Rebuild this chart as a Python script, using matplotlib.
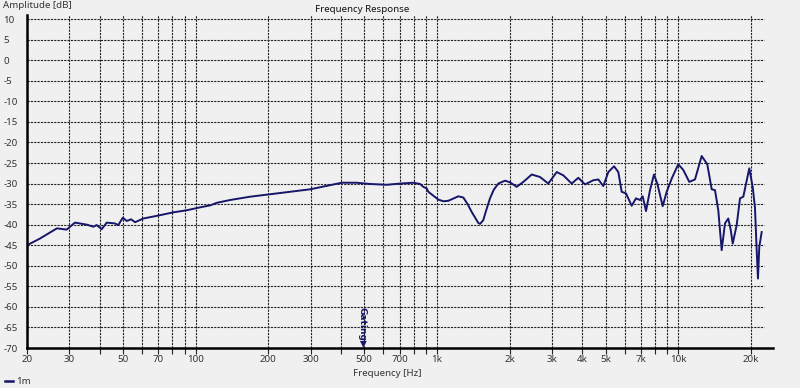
import matplotlib.pyplot as plt
from matplotlib.ticker import FixedLocator, NullFormatter

freq_hz = [20, 22.6, 26.6, 29.2, 31.6, 35.4, 37.7, 38.9, 40.8, 42.8, 46.3,
           47.8, 49.9, 51.8, 54.0, 56.1, 60.7, 71.1, 80.8, 91.8, 104, 115,
           122, 139, 168, 217, 298, 360, 403, 465, 528, 619, 703, 798, 851,
           878, 907, 921, 1013, 1062, 1114, 1226, 1286, 1340, 1393, 1484,
           1510, 1556, 1600, 1659, 1720, 1796, 1914, 2008, 2140, 2280, 2470,
           2673, 2894, 3136, 3340, 3618, 3854, 4108, 4446, 4664, 4892, 5132,
           5418, 5645, 5829, 6074, 6413, 6682, 6942, 7123, 7351, 7637, 7934,
           8188, 8621, 8956, 9394, 10002, 10496, 11110, 11732, 12506, 13192,
           13760, 14200, 14654, 15136, 15620, 16120, 16496, 16814, 17466,
           18026, 18604, 19698, 20348, 20798, 21136, 21400, 21668, 22172]
level_db = [-45.0, -43.4, -40.9, -41.2, -39.5, -40.0, -40.5, -40.1, -41.1,
            -39.5, -39.7, -40.1, -38.3, -39.1, -38.7, -39.4, -38.5, -37.7,
            -37.0, -36.5, -35.8, -35.3, -34.7, -34.0, -33.2, -32.4, -31.4,
            -30.4, -29.8, -29.8, -30.1, -30.3, -30.0, -29.8, -30.1, -30.8,
            -31.2, -32.0, -33.9, -34.3, -34.2, -33.1, -33.4, -35.0, -36.9,
            -39.6, -39.8, -38.9, -36.5, -33.6, -31.5, -30.0, -29.3, -29.7,
            -30.8, -29.6, -27.8, -28.4, -30.0, -27.2, -28.0, -30.0, -28.6,
            -30.2, -29.2, -29.0, -30.6, -27.2, -25.8, -27.2, -32.0, -32.4,
            -35.4, -33.6, -34.0, -33.1, -36.7, -31.6, -27.8, -30.0, -35.5,
            -32.0, -28.8, -25.3, -26.7, -29.6, -29.0, -23.3, -25.3, -31.4,
            -31.6, -36.5, -46.2, -39.7, -38.5, -41.2, -44.6, -40.1, -33.6,
            -33.2, -26.3, -30.8, -35.9, -46.2, -53.1, -45.4, -41.8]

x_ticks = [20, 30, 50, 70, 100, 200, 300, 500, 700, 1000, 2000, 3000, 4000,
           5000, 7000, 10000, 20000]
x_labels = ['20', '30', '50', '70', '100', '200', '300', '500', '700', '1k',
            '2k', '3k', '4k', '5k', '7k', '10k', '20k']
y_ticks = list(range(-70, 11, 5))
gating_hz = 489

BG = '#f0f0f0'
LINE = '#16166a'
TXT = '#333333'

plt.rcParams['font.family'] = ['Noto Sans', 'DejaVu Sans']
plt.rcParams['font.size'] = 7
plt.rcParams['axes.unicode_minus'] = False

fig = plt.figure(figsize=(8, 3.88), dpi=100, facecolor=BG)
ax = fig.add_axes([27 / 800, 1 - 348 / 388, 746 / 800, 333 / 388])
ax.set_facecolor(BG)

ax.plot(freq_hz, level_db, color=LINE, lw=1.4, solid_joinstyle='round')

ax.set_xscale('log')
ax.set_xlim(20, 24700)
ax.set_ylim(-70, 11)

grid_x = [m * 10 ** e for e in range(1, 5) for m in range(1, 10)]
grid_x = [g for g in grid_x if 20 <= g <= 20000]
ax.xaxis.set_major_locator(FixedLocator(x_ticks))
ax.xaxis.set_minor_locator(FixedLocator(grid_x))
ax.xaxis.set_minor_formatter(NullFormatter())
ax.set_xticklabels(x_labels)
ax.set_yticks(y_ticks)

for g in grid_x:
    ax.axvline(g, color='#222222', lw=0.8, ls=(0, (2, 1)), zorder=1)
for y in y_ticks:
    ax.plot([20, 22700], [y, y], color='#222222', lw=0.8, ls=(0, (2, 1)),
            zorder=1)

ax.tick_params(axis='x', which='both', direction='out', length=4, width=0.8,
               color='#222222', labelcolor=TXT, pad=1)
ax.tick_params(axis='y', length=0, pad=17, labelcolor=TXT)
for lab in ax.get_yticklabels():
    lab.set_horizontalalignment('left')

for side in ['top', 'right']:
    ax.spines[side].set_visible(False)
for side in ['left', 'bottom']:
    ax.spines[side].set_linewidth(1.8)
    ax.spines[side].set_zorder(5)

ax.text(gating_hz, -70, 'Gating\u25b6', rotation=-90, color=LINE,
        fontsize=6.5, fontweight='bold', ha='center', va='bottom',
        family=['DejaVu Sans'])

fig.text(362 / 800, 1 - 10 / 388, 'Frequency Response', ha='center',
         va='center', fontweight='bold', color='#111111')
fig.text(3 / 800, 1 - 6 / 388, 'Amplitude [dB]', ha='left', va='center',
         color=TXT)
fig.text(387 / 800, 1 - 374 / 388, 'Frequency [Hz]', ha='center',
         va='center', color=TXT)
fig.lines.append(plt.Line2D([5 / 800, 13 / 800], [1 - 381 / 388] * 2,
                            transform=fig.transFigure, color=LINE, lw=1.8))
fig.text(16 / 800, 1 - 381 / 388, '1m', ha='left', va='center', color=TXT)

fig.savefig('out.png', dpi=100, facecolor=BG)
